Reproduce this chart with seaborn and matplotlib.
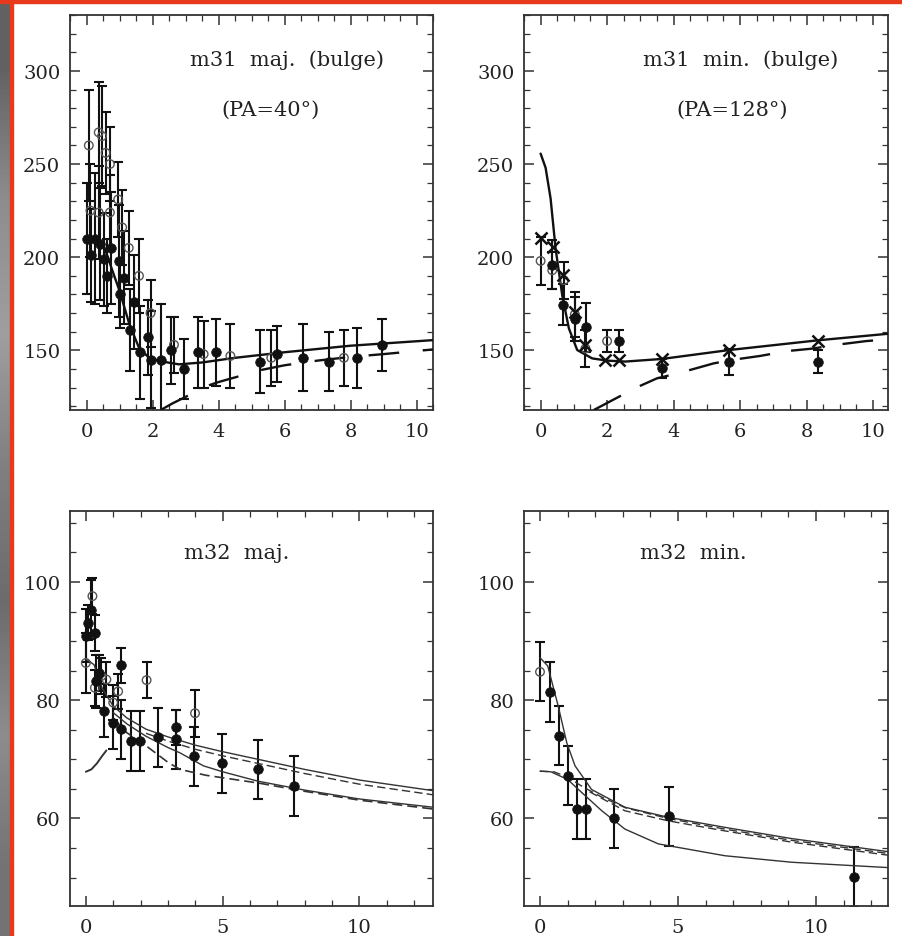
import numpy as np
import matplotlib
matplotlib.use("Agg")
import matplotlib.pyplot as plt
import seaborn as sns
from matplotlib.ticker import MultipleLocator
from matplotlib.patches import Rectangle

# ---------------- m31 major axis (bulge), PA=40 ----------------
m31maj_fill_x = [0.0, 0.14, 0.27, 0.40, 0.53, 0.63, 0.73, 0.98, 1.03, 1.13, 1.31, 1.43,
                 1.62, 1.86, 1.94, 2.26, 2.55, 2.95, 3.38, 3.91, 5.25, 5.78, 6.55, 7.34, 8.2, 8.96]
m31maj_fill_y = [210, 201, 210, 207, 199, 190, 205, 198, 180, 189, 161, 176,
                 149, 157, 145, 145, 150, 140, 149, 149, 144, 148, 146, 144, 146, 153]
m31maj_fill_e = [30, 25, 35, 30, 25, 20, 30, 30, 18, 25, 22, 25,
                 25, 20, 26, 30, 18, 16, 19, 18, 17, 15, 18, 16, 16, 14]
m31maj_open_x = [0.07, 0.12, 0.37, 0.47, 0.58, 0.71, 0.37, 0.71, 0.96, 1.08, 1.28, 1.59,
                 1.94, 2.65, 3.55, 4.36, 5.6, 7.8]
m31maj_open_y = [260, 225, 267, 265, 256, 250, 224, 224, 231, 216, 205, 190,
                 170, 153, 148, 147, 146, 146]
m31maj_open_e = [30, 25, 27, 27, 22, 20, 25, 20, 20, 20, 20, 20,
                 18, 15, 18, 17, 15, 15]
m31maj_solid_x = [0.55, 0.8, 1.0, 1.3, 1.6, 1.9, 2.3, 2.8, 3.5, 4.5, 6.0, 8.0, 10.5]
m31maj_solid_y = [205, 192, 182, 164, 151, 146, 144, 142.5, 143.5, 146, 149, 152.5, 155.5]
m31maj_dash_x = [2.25, 2.6, 3.0, 3.5, 4.0, 4.5, 5.3, 6.0, 7.0, 8.0, 9.0, 10.5]
m31maj_dash_y = [118, 121.5, 125, 130, 133, 135.5, 139.5, 142, 144.5, 146.5, 148, 150.5]

# ---------------- m31 minor axis (bulge), PA=128 ----------------
m31min_cross_x = [0.0, 0.37, 0.68, 1.03, 1.35, 1.95, 2.37, 3.65, 5.68, 8.34]
m31min_cross_y = [210.4, 205.6, 190.4, 170.4, 152.9, 144.8, 144.8, 145.4, 150.2, 155.0]
m31min_open_x = [0.0, 0.35, 0.70, 1.03, 1.35, 2.0]
m31min_open_y = [198, 193, 187.7, 169.3, 151, 155]
m31min_open_e = [13, 10, 10, 12, 10, 6]
m31min_fill_x = [0.35, 0.68, 1.03, 1.37, 2.37, 3.65, 5.68, 8.34]
m31min_fill_y = [196, 174.6, 166.8, 162.3, 155, 140.4, 144, 144]
m31min_fill_e = [13, 11, 12, 13, 6, 5, 7, 6]
m31min_solid_x = [0.0, 0.15, 0.3, 0.45, 0.65, 0.85, 1.1, 1.55, 2.0, 2.55, 3.65, 5.68, 8.34, 10.5]
m31min_solid_y = [255.6, 248, 231.5, 204.7, 179.6, 161.8, 150.2, 145.7, 144.5, 144.0, 145.4, 150.2, 155.4, 159]
m31min_dash_x = [1.6, 2.45, 3.0, 3.5, 4.2, 5.2, 5.8, 6.6, 7.4, 8.2, 8.9, 9.8, 10.5]
m31min_dash_y = [118, 126, 131, 135, 138, 143, 145, 147, 149.6, 151, 153, 155, 156]

# ---------------- m32 major axis ----------------
m32maj_fill_x = [0.0, 0.09, 0.17, 0.33, 0.37, 0.49, 0.67, 1.0, 1.3, 1.3, 1.65, 1.97,
                 2.64, 3.31, 3.31, 3.96, 4.96, 6.3, 7.6]
m32maj_fill_y = [90.9, 93.1, 95.3, 91.4, 83.2, 84.6, 78.2, 76.2, 85.9, 75.1, 73.1, 73.1,
                 73.7, 75.4, 73.4, 70.5, 69.3, 68.3, 65.5]
m32maj_fill_e = [4.5, 3, 5, 3, 4.5, 3, 4.5, 4.5, 3, 5, 5, 5,
                 5, 3, 5, 5, 5, 5, 5]
m32maj_open_x = [0.0, 0.24, 0.33, 0.57, 0.75, 1.0, 1.18, 2.22, 3.99]
m32maj_open_y = [86.3, 97.6, 82.1, 84.1, 83.5, 79.6, 81.5, 83.4, 77.8]
m32maj_open_e = [5, 3, 3, 3, 3, 3, 3, 3, 4]
m32maj_c0_x = [0.0, 0.2, 0.4, 0.6, 0.75]
m32maj_c0_y = [67.9, 68.3, 69.3, 70.6, 71.5]
m32maj_c1_x = [0.0, 0.3, 0.6, 1.0, 1.5, 2.2, 3.0, 4.0, 4.9, 6.0, 8.0, 10.0, 12.7]
m32maj_c1_y = [87, 86, 82, 79, 77, 75.1, 73.8, 72.4, 71.4, 70.3, 68.3, 66.5, 64.7]
m32maj_c1b_x = [2.2, 3.0, 4.0, 4.9, 6.0, 8.0, 10.0, 12.7]
m32maj_c1b_y = [74.4, 73.1, 71.7, 70.7, 69.6, 67.6, 65.8, 64.0]
m32maj_c2_x = [1.0, 1.5, 2.2, 3.0, 3.44, 4.3, 5.0, 6.3, 8.0, 10.0, 12.7]
m32maj_c2_y = [77.9, 76, 73.9, 72, 71.1, 68.9, 67.9, 66.3, 64.8, 63.3, 61.9]
m32maj_c3_x = [1.0, 1.5, 2.2, 3.0, 3.44, 4.4, 6.3, 8.0, 10.0, 12.7]
m32maj_c3_y = [77, 74.5, 72.3, 69.5, 68.3, 67.3, 66.0, 64.6, 63.1, 61.6]

# ---------------- m32 minor axis ----------------
m32min_open_x = [0.0]
m32min_open_y = [84.8]
m32min_open_e = [5]
m32min_fill_x = [0.36, 0.70, 1.0, 1.35, 1.67, 2.68, 4.68, 11.36]
m32min_fill_y = [81.4, 74.0, 67.2, 61.6, 61.6, 60.05, 60.4, 50.1]
m32min_fill_e = [5, 5, 5, 5, 5, 5, 5, 5]
m32min_c1_x = [0.0, 0.28, 0.66, 0.97, 1.27, 1.87, 3.08, 4.65, 6.7, 9.12, 12.6]
m32min_c1_y = [87.2, 85.8, 79.0, 72.8, 68.9, 64.9, 61.9, 60.2, 58.5, 56.6, 54.4]
m32min_c2_x = [1.8, 3.08, 4.65, 6.7, 9.12, 12.6]
m32min_c2_y = [64.5, 61.3, 59.6, 57.9, 56.0, 53.8]
m32min_c3_x = [0.0, 0.5, 1.0, 1.5, 2.2, 3.1, 4.65, 6.7, 9.12, 12.6]
m32min_c3_y = [68, 67.9, 67.0, 65.5, 63.7, 61.8, 60.0, 58.2, 56.3, 54.1]
m32min_c4_x = [0.0, 0.39, 1.0, 1.51, 2.24, 3.08, 4.29, 6.7, 9.12, 12.6]
m32min_c4_y = [68, 67.9, 66.6, 64.4, 61.3, 58.2, 55.7, 53.7, 52.6, 51.7]

titles = ["m31  maj.  (bulge)", "m31  min.  (bulge)", "m32  maj.", "m32  min."]
subtitles = ["(PA=40°)", "(PA=128°)"]

# ---------------------------------------------------------------
sns.set_theme(style="ticks")
plt.rcParams["font.family"] = ["DejaVu Serif"]

fig = plt.figure(figsize=(9.02, 9.37), dpi=100)
fig.patch.set_facecolor("white")

# slide-like frame: gray strip on the left, red border lines
bg = fig.add_axes([0, 0, 10 / 902, 1])
bg.imshow(np.array([[0.38], [0.55], [0.62], [0.5], [0.42], [0.55], [0.45]]),
          cmap="gray", vmin=0, vmax=1, aspect="auto", interpolation="bilinear")
bg.set_axis_off()
fig.patches.append(Rectangle((10 / 902, 0), 3 / 902, 1, transform=fig.transFigure,
                             color="#e8391d", zorder=5))
fig.patches.append(Rectangle((0, 1 - 4 / 937), 1, 4 / 937, transform=fig.transFigure,
                             color="#e8391d", zorder=5))

W, H = 902, 937
def fa(l, r, t, b):
    return [l / W, 1 - b / H, (r - l) / W, (b - t) / H]

ax_tl = fig.add_axes(fa(70, 433, 16, 411))
ax_tr = fig.add_axes(fa(524, 888, 16, 411))
ax_bl = fig.add_axes(fa(70, 433, 512, 907))
ax_br = fig.add_axes(fa(524, 888, 512, 907))

INK = "#111111"

def style(ax, xlim, ylim, xmaj, xmin, ymaj, ymin):
    ax.set_facecolor("white")
    ax.set_xlim(xlim)
    ax.set_ylim(ylim)
    ax.xaxis.set_major_locator(MultipleLocator(xmaj))
    ax.xaxis.set_minor_locator(MultipleLocator(xmin))
    ax.yaxis.set_major_locator(MultipleLocator(ymaj))
    ax.yaxis.set_minor_locator(MultipleLocator(ymin))
    ax.tick_params(which="both", direction="in", top=True, right=True,
                   color="#333333", labelcolor="#222222", labelsize=14)
    ax.tick_params(which="major", length=7.5, width=1.1)
    ax.tick_params(which="minor", length=4, width=0.9)
    ax.tick_params(axis="y", pad=7)
    ax.tick_params(axis="x", pad=9)
    for s in ax.spines.values():
        s.set_color("#333333")
        s.set_linewidth(1.3)
    ax.set_xlabel("")
    ax.set_ylabel("")

def ebar(ax, x, y, e):
    ax.errorbar(x, y, yerr=e, fmt="none", ecolor=INK, elinewidth=1.5,
                capsize=3.5, capthick=1.5, zorder=2)

def filled(ax, x, y):
    sns.scatterplot(x=x, y=y, ax=ax, marker="o", s=48, color=INK,
                    edgecolor=INK, linewidth=0.5, zorder=4)

def hollow(ax, x, y):
    sns.scatterplot(x=x, y=y, ax=ax, marker="o", s=38, facecolors="none",
                    edgecolor="#555555", linewidth=1.0, zorder=4)

def line(ax, x, y, ls="-", lw=1.5, color=INK):
    sns.lineplot(x=x, y=y, ax=ax, color=color, linewidth=lw, linestyle=ls,
                 estimator=None, sort=False, zorder=3)

# ---- top left: m31 maj
ax = ax_tl
ebar(ax, m31maj_fill_x, m31maj_fill_y, m31maj_fill_e)
ebar(ax, m31maj_open_x, m31maj_open_y, m31maj_open_e)
line(ax, m31maj_solid_x, m31maj_solid_y, lw=1.7)
line(ax, m31maj_dash_x, m31maj_dash_y, ls=(0, (13, 10)), lw=1.7)
hollow(ax, m31maj_open_x, m31maj_open_y)
filled(ax, m31maj_fill_x, m31maj_fill_y)
style(ax, (-0.5, 10.5), (118, 330), 2, 0.5, 50, 10)
ax.text(0.598, 0.889, titles[0], transform=ax.transAxes, ha="center", va="center",
        fontsize=15, color="#222222")
ax.text(0.551, 0.762, subtitles[0], transform=ax.transAxes, ha="center", va="center",
        fontsize=15, color="#222222")

# ---- top right: m31 min
ax = ax_tr
ebar(ax, m31min_open_x, m31min_open_y, m31min_open_e)
ebar(ax, m31min_fill_x, m31min_fill_y, m31min_fill_e)
line(ax, m31min_solid_x, m31min_solid_y, lw=1.7)
line(ax, m31min_dash_x, m31min_dash_y, ls=(0, (13, 9)), lw=1.7)
hollow(ax, m31min_open_x, m31min_open_y)
filled(ax, m31min_fill_x, m31min_fill_y)
sns.scatterplot(x=m31min_cross_x, y=m31min_cross_y, ax=ax, marker="x", s=75,
                color=INK, linewidth=1.8, zorder=5)
style(ax, (-0.5, 10.45), (118, 330), 2, 0.5, 50, 10)
ax.text(0.596, 0.889, titles[1], transform=ax.transAxes, ha="center", va="center",
        fontsize=15, color="#222222")
ax.text(0.571, 0.762, subtitles[1], transform=ax.transAxes, ha="center", va="center",
        fontsize=15, color="#222222")

# ---- bottom left: m32 maj
ax = ax_bl
ebar(ax, m32maj_fill_x, m32maj_fill_y, m32maj_fill_e)
ebar(ax, m32maj_open_x, m32maj_open_y, m32maj_open_e)
line(ax, m32maj_c0_x, m32maj_c0_y, lw=1.4, color="#333333")
line(ax, m32maj_c1_x, m32maj_c1_y, lw=1.0, color="#333333")
line(ax, m32maj_c1b_x, m32maj_c1b_y, ls=(0, (6, 3)), lw=1.0, color="#333333")
line(ax, m32maj_c2_x, m32maj_c2_y, lw=1.0, color="#333333")
line(ax, m32maj_c3_x, m32maj_c3_y, ls=(0, (6, 3)), lw=1.2, color="#333333")
hollow(ax, m32maj_open_x, m32maj_open_y)
filled(ax, m32maj_fill_x, m32maj_fill_y)
style(ax, (-0.58, 12.69), (45.2, 112), 5, 1, 20, 5)
ax.text(0.46, 0.896, titles[2], transform=ax.transAxes, ha="center", va="center",
        fontsize=15, color="#222222")

# ---- bottom right: m32 min
ax = ax_br
ebar(ax, m32min_open_x, m32min_open_y, m32min_open_e)
ebar(ax, m32min_fill_x, m32min_fill_y, m32min_fill_e)
line(ax, m32min_c1_x, m32min_c1_y, lw=1.0, color="#333333")
line(ax, m32min_c2_x, m32min_c2_y, ls=(0, (6, 3)), lw=1.0, color="#333333")
line(ax, m32min_c3_x, m32min_c3_y, ls=(0, (6, 3)), lw=1.0, color="#333333")
line(ax, m32min_c4_x, m32min_c4_y, lw=1.0, color="#333333")
hollow(ax, m32min_open_x, m32min_open_y)
filled(ax, m32min_fill_x, m32min_fill_y)
style(ax, (-0.58, 12.61), (45.2, 112), 5, 1, 20, 5)
ax.text(0.464, 0.896, titles[3], transform=ax.transAxes, ha="center", va="center",
        fontsize=15, color="#222222")

fig.savefig("out.png", dpi=100, facecolor=fig.get_facecolor())
